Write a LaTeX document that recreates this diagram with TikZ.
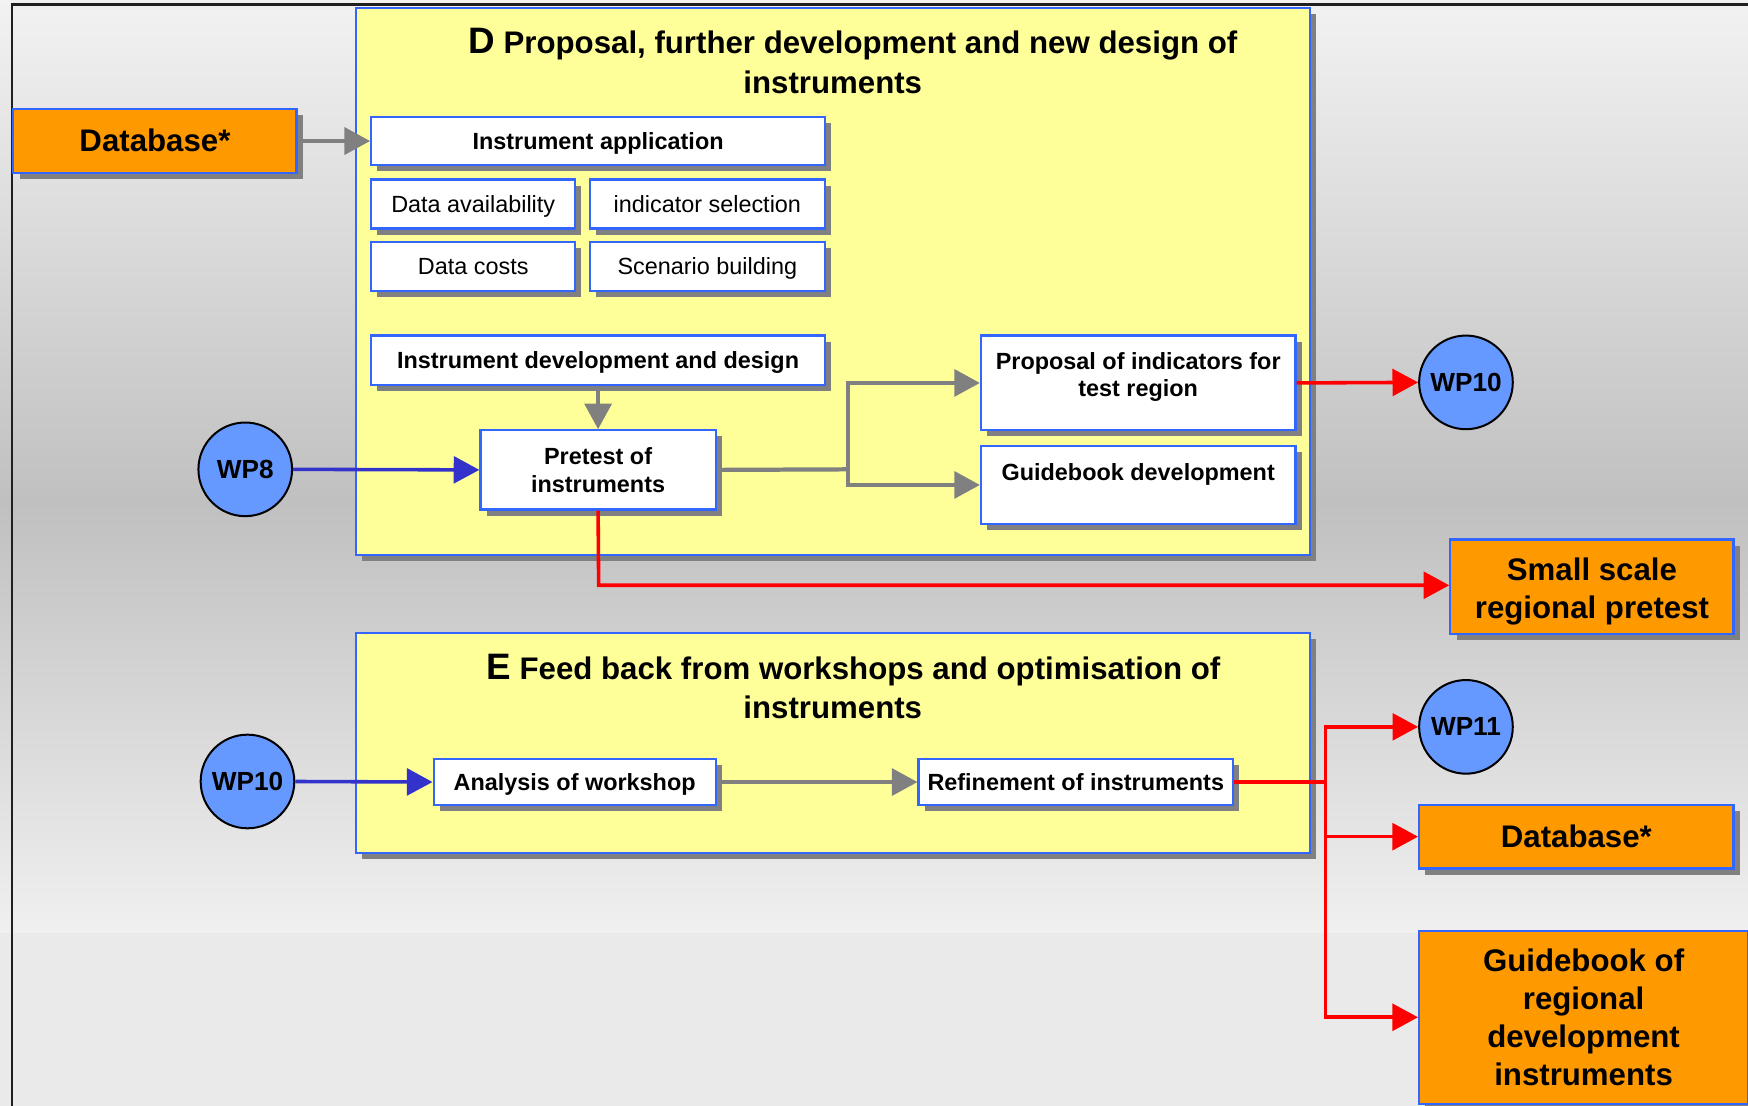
\documentclass[tikz,border=0pt]{standalone}
\usepackage{fontspec}
\setmainfont{Liberation Sans}
\usetikzlibrary{shadows,arrows.meta}
\definecolor{bblue}{HTML}{3366FF}
\definecolor{yel}{HTML}{FFFF99}
\definecolor{orng}{HTML}{FF9900}
\definecolor{wpblue}{HTML}{6699FF}
\definecolor{arrblue}{HTML}{3333CC}
\definecolor{arrred}{HTML}{FF0000}
\definecolor{arrgray}{HTML}{808080}
\definecolor{shgray}{HTML}{808080}
\definecolor{bgtop}{HTML}{F2F2F2}
\definecolor{bgmid}{HTML}{C0C0C0}
\definecolor{bgbot}{HTML}{F0F0F0}
\definecolor{bgflat}{HTML}{EAEAEA}
\definecolor{framecol}{HTML}{202020}
\begin{document}
\begin{tikzpicture}[x=0.5pt,y=-0.5pt,
  shad/.style={drop shadow={shadow xshift=2.75pt,shadow yshift=-2.75pt,fill=shgray,opacity=1}},
  panel/.style={draw=bblue,line width=1pt,fill=yel,inner sep=0pt,shad},
  wbox/.style={draw=bblue,line width=1pt,fill=white,inner sep=0pt,align=center,shad,
     font=\fontsize{10.5}{12.5}\selectfont\bfseries},
  wboxr/.style={wbox,font=\fontsize{10.5}{12.5}\selectfont},
  oneline/.style={text height=7.3pt,text depth=0pt},
  obox/.style={draw=bblue,line width=1pt,fill=orng,inner sep=0pt,align=center,shad,
     font=\fontsize{14}{17}\selectfont\bfseries},
  wpc/.style={circle,draw=black,line width=0.9pt,fill=wpblue,minimum size=42pt,inner sep=0pt,
     font=\fontsize{11.75}{14}\selectfont\bfseries},
  ttl/.style={inner sep=0pt,font=\fontsize{14}{17.5}\selectfont\bfseries},
  tip/.style={-{Triangle[length=11.5pt,width=12pt]}},
  garr/.style={tip,draw=arrgray,line width=1.9pt},
  barr/.style={tip,draw=arrblue,line width=1.6pt},
  rarr/.style={tip,draw=arrred,line width=1.6pt},
  rline/.style={draw=arrred,line width=1.6pt},
  gline/.style={draw=arrgray,line width=1.9pt}]
\useasboundingbox (0,0) rectangle (1568,992);
\clip (0,0) rectangle (1568,992);
% background
\fill[top color=bgtop,bottom color=bgmid] (0,0) rectangle (1568,451);
\fill[top color=bgmid,bottom color=bgbot] (0,450) rectangle (1568,837);
\fill[bgflat] (0,837) rectangle (1568,992);
\draw[framecol,line width=1pt] (11,992) -- (11,4) -- (1568,4);

% panels
\node[panel,minimum width=428pt,minimum height=245.5pt] (Dbox) at (747,252.5) {};
\node[panel,minimum width=428pt,minimum height=98.5pt] (Ebox) at (747,666.5) {};

\node[ttl] (dt1) at (765,40) {{\fontsize{16.5}{17.5}\selectfont D} Proposal, further development and new design of};
\node[ttl] (dt2) at (747,73.5) {instruments};
\node[ttl] (et1) at (765.5,601) {{\fontsize{16.5}{17.5}\selectfont E} Feed back from workshops and optimisation of};
\node[ttl] (et2) at (747,634.5) {instruments};

% D content
\node[obox,text height=9pt,text depth=0pt,minimum width=127pt,minimum height=28.5pt] (dbL) at (139,126.5) {Database*};
\node[wbox,oneline,minimum width=203.5pt,minimum height=21.5pt] (instapp) at (536.5,126.5) {Instrument application};
\node[wboxr,oneline,minimum width=91.5pt,minimum height=22pt] (dataav) at (424.5,183) {Data availability};
\node[wboxr,oneline,minimum width=105.5pt,minimum height=22pt] (indsel) at (634.5,183) {indicator selection};
\node[wboxr,oneline,minimum width=91.5pt,minimum height=22pt] (datacost) at (424.5,239) {Data costs};
\node[wboxr,oneline,minimum width=105.5pt,minimum height=22pt] (scen) at (634.5,239) {Scenario building};
\node[wbox,oneline,minimum width=203.5pt,minimum height=22pt] (instdev) at (536.5,323) {Instrument development and design};
\node[wbox,minimum width=105.5pt,minimum height=35.5pt] (pretest) at (536.5,421.5) {Pretest of\\instruments};
\node[wpc] (wp8) at (220,421) {WP8};
\node[wbox,minimum width=141pt,minimum height=42.5pt] (proposal) at (1021,343.5) {Proposal of indicators for\\test region\rule[-7.5pt]{0pt}{7.5pt}};
\node[wbox,minimum width=141pt,minimum height=35pt] (guide) at (1021,435) {Guidebook development\rule[-12pt]{0pt}{12pt}};
\node[wpc] (wp10a) at (1315,343) {WP10};
\node[obox,minimum width=127pt,minimum height=42.5pt] (small) at (1428,526.5) {\rule{0pt}{14pt}Small scale\\regional pretest};

% E content
\node[wpc] (wp10b) at (222,701) {WP10};
\node[wbox,oneline,minimum width=126.5pt,minimum height=20.5pt] (analysis) at (515.5,701.5) {Analysis of workshop};
\node[wbox,oneline,minimum width=141pt,minimum height=20.5pt] (refine) at (965,701.5) {Refinement of instruments};
\node[wpc] (wp11) at (1315,652) {WP11};
\node[obox,text height=10pt,text depth=0pt,minimum width=141pt,minimum height=28.5pt] (dbR) at (1414,750.5) {Database*};
\node[obox,minimum width=147.5pt,minimum height=77.5pt] (gbk) at (1420.5,912.5) {Guidebook of\\regional\\development\\instruments};

% connectors
\draw[garr] (dbL.east) -- (instapp.west);
\draw[garr] (instdev.south) -- (pretest.north);
\draw[barr] (wp8.east) -- (pretest.west);
\coordinate (gsplit) at (761,421);
\draw[gline] (pretest.east) -- (gsplit);
\draw[garr] (gsplit) |- (proposal.west);
\draw[garr] (gsplit) |- (guide.west);
\draw[rarr] (proposal.east) -- (wp10a.west);
\coordinate (rcorner) at (537,525);
\draw[rarr] (pretest.south) -- (rcorner) -- (rcorner -| small.west);
\draw[barr] (wp10b.east) -- (analysis.west);
\draw[garr] (analysis.east) -- (refine.west);
\coordinate (rsplit) at (1189,701.5);
\draw[rline] (refine.east) -- (rsplit);
\draw[rarr] (rsplit) |- (wp11.west);
\draw[rarr] (rsplit) |- (dbR.west);
\draw[rarr] (rsplit) |- (gbk.west);
\end{tikzpicture}
\end{document}
